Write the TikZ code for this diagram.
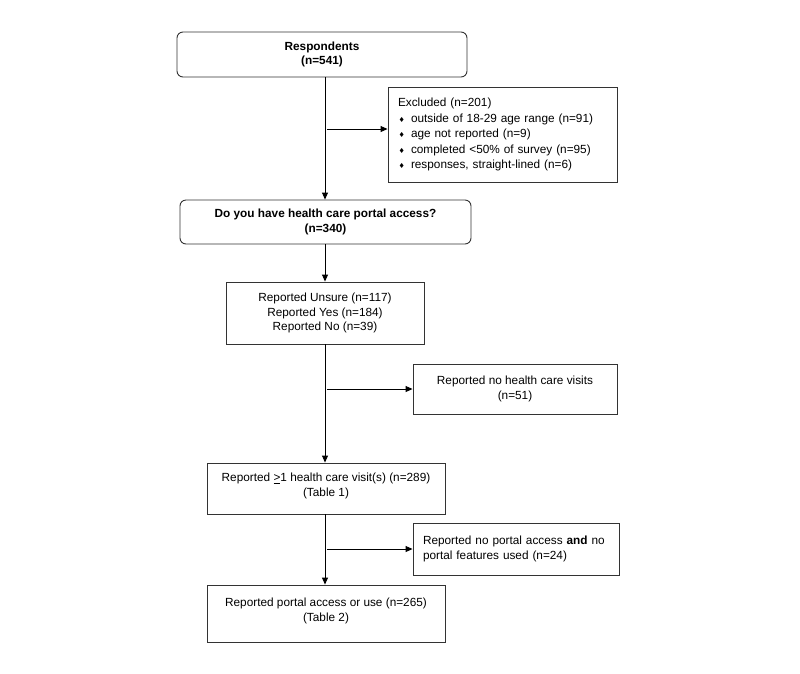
\documentclass[tikz,border=0pt]{standalone}
\usepackage{fontspec}
\setmainfont{Liberation Sans}
\newfontfamily\dejavu{DejaVu Sans}
\usetikzlibrary{arrows.meta}
\newcommand\bul{\makebox[13pt][l]{\hspace{0.5pt}{\dejavu\fontsize{7}{7}\selectfont ♦}}}
\begin{document}
\begin{tikzpicture}[x=1pt,y=1pt,
  every node/.style={font=\fontsize{11.8}{14.5}\selectfont, inner sep=0pt},
  box/.style={draw=black!80, line width=0.9pt, align=center},
  rbox/.style={box, rounded corners=6pt, font=\bfseries\fontsize{11.8}{14.5}\selectfont},
  arr/.style={line width=0.9pt, -{Triangle[length=7pt,width=6pt]}}
]
\useasboundingbox (0,0) rectangle (800,-673);
\fill[white] (0,0) rectangle (800,-673);

\node[rbox, minimum width=290pt, minimum height=45pt] (b1) at (322,-54.5) {Respondents\\(n=541)};
\node[box, minimum width=229pt, minimum height=95pt, text width=209pt, align=left,
      font=\fontsize{11.8}{15.5}\selectfont] (ex) at (502.5,-134.5)
  {Excluded (n=201)\\
   \bul outside of 18-29 age range (n=91)\\
   \bul age not reported (n=9)\\
   \bul completed <50\% of survey (n=95)\\
   \bul responses, straight-lined (n=6)};
\node[rbox, minimum width=291pt, minimum height=44pt] (b2) at (325.5,-222) {Do you have health care portal access?\\(n=340)};
\node[box, minimum width=198pt, minimum height=62pt] (b3) at (325,-313) {Reported Unsure (n=117)\\Reported Yes (n=184)\\Reported No (n=39)};
\node[box, minimum width=204pt, minimum height=50pt] (b4) at (515,-389) {Reported no health care visits\\(n=51)};
\node[box, minimum width=238pt, minimum height=51pt, text depth=8pt] (b5) at (326,-488.5) {Reported \underline{>}1 health care visit(s) (n=289)\\(Table 1)};
\node[box, minimum width=206pt, minimum height=52pt, text width=186pt, align=left] (b6) at (516,-549) {Reported no portal access \textbf{and} no\\portal features used (n=24)};
\node[box, minimum width=238pt, minimum height=57pt, text depth=8pt] (b7) at (326,-613.5) {Reported portal access or use (n=265)\\(Table 2)};

\coordinate (sp) at (325,0);
\coordinate (j1) at (327,-129);
\coordinate (j2) at (327,-389);
\coordinate (j3) at (327,-549);

\draw[arr] (b1.south -| sp) -- (b2.north -| sp);
\draw[arr] (j1) -- (j1 -| ex.west);
\draw[arr] (b2.south -| sp) -- (b3.north -| sp);
\draw[arr] (b3.south -| sp) -- (b5.north -| sp);
\draw[arr] (j2) -- (j2 -| b4.west);
\draw[arr] (b5.south -| sp) -- (b7.north -| sp);
\draw[arr] (j3) -- (j3 -| b6.west);
\end{tikzpicture}
\end{document}
